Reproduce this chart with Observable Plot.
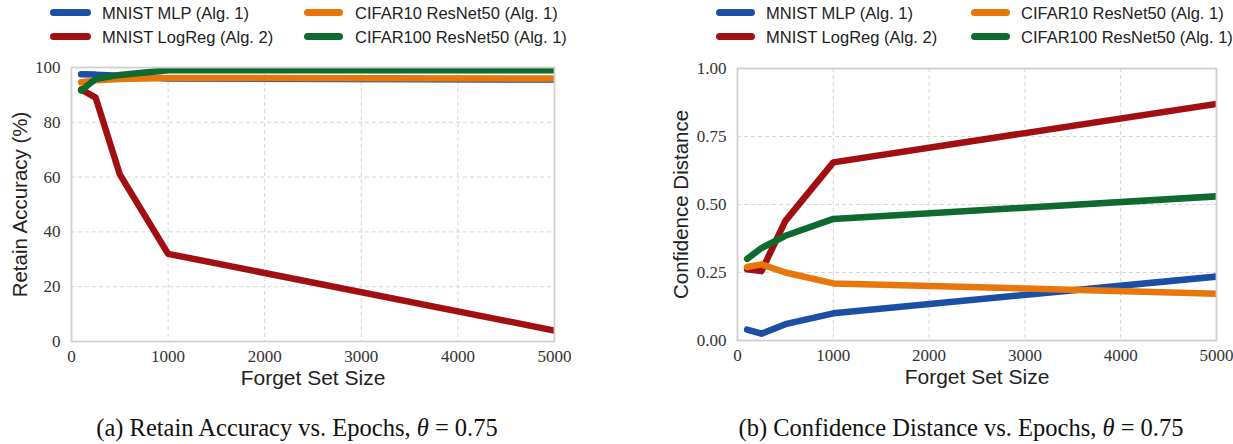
<!DOCTYPE html>
<html>
<head>
<meta charset="utf-8">
<script src="https://cdn.jsdelivr.net/npm/d3@7"></script>
<script src="https://cdn.jsdelivr.net/npm/@observablehq/plot@0.6"></script>
<style>
  html, body { margin: 0; padding: 0; background: #ffffff; }
  #root { position: relative; width: 1233px; height: 444px; overflow: hidden; background: #fff; }
  .panel { position: absolute; top: 55px; }
  .leg { position: absolute; height: 20px; line-height: 20px; font-family: "Liberation Sans", Arial, sans-serif; font-size: 16.5px; color: #222; white-space: nowrap; }
  .sw { position: absolute; height: 7px; border-radius: 3.5px; }
  .cap { position: absolute; top: 414px; height: 28px; line-height: 28px; font-family: "Liberation Serif", "DejaVu Serif", serif; font-size: 24.5px; color: #111; white-space: nowrap; transform: translateX(-50%); }
</style>
</head>
<body>
<div id="root"></div>
<script>
// ---------------- data ----------------
const forgetSizes = [100, 250, 500, 1000, 5000];
const seriesNames = ["MNIST MLP (Alg. 1)", "MNIST LogReg (Alg. 2)", "CIFAR10 ResNet50 (Alg. 1)", "CIFAR100 ResNet50 (Alg. 1)"];
const seriesColors = ["#1b4fa6", "#a20f12", "#e8770b", "#0f6a2f"];

// panel (a): retain accuracy (%)
const retainMLP      = [97.5, 97.4, 97.0, 96.0, 95.6];
const retainLogReg   = [92.0, 89.0, 61.0, 32.0, 4.0];
const retainCIFAR10  = [94.6, 95.3, 95.8, 96.2, 96.0];
const retainCIFAR100 = [91.6, 95.8, 97.3, 99.0, 99.0];

// panel (b): confidence distance
const confMLP      = [0.040, 0.025, 0.060, 0.100, 0.235];
const confLogReg   = [0.262, 0.255, 0.440, 0.655, 0.870];
const confCIFAR10  = [0.270, 0.280, 0.250, 0.210, 0.172];
const confCIFAR100 = [0.300, 0.340, 0.385, 0.447, 0.530];

const xTicks = [0, 1000, 2000, 3000, 4000, 5000];
const retainTicks = [0, 20, 40, 60, 80, 100];
const confTicks = [0, 0.25, 0.5, 0.75, 1.0];

const xLabel = "Forget Set Size";
const retainLabel = "Retain Accuracy (%)";
const confLabel = "Confidence Distance";
const captionA = ["(a) Retain Accuracy vs. Epochs, ", "θ", " = 0.75"];
const captionB = ["(b) Confidence Distance vs. Epochs, ", "θ", " = 0.75"];

// ---------------- helpers ----------------
const SERIF = "'Liberation Serif', 'DejaVu Serif', serif";
const SANS = "'Liberation Sans', Arial, sans-serif";

function toRows(seriesList) {
  const rows = [];
  seriesList.forEach((vals, si) => {
    vals.forEach((v, i) => rows.push({ series: seriesNames[si], x: forgetSizes[i], y: v }));
  });
  return rows;
}

function makePanel({ rows, yDomain, yTicks, yFormat, yLabel, width, height, marginLeft, marginRight, marginTop, marginBottom, yLabelDx }) {
  const svg = Plot.plot({
    width, height, marginLeft, marginRight, marginTop, marginBottom,
    style: { background: "#ffffff", fontSize: "17px", color: "#333" },
    x: { domain: [0, 5000] },
    y: { domain: yDomain },
    color: { domain: seriesNames, range: seriesColors },
    marks: [
      Plot.gridX(xTicks, { stroke: "#d6d6d6", strokeOpacity: 1, strokeWidth: 1, strokeDasharray: "4,3" }),
      Plot.gridY(yTicks, { stroke: "#d6d6d6", strokeOpacity: 1, strokeWidth: 1, strokeDasharray: "4,3" }),
      Plot.axisX(xTicks, { tickSize: 0, tickPadding: 8, label: null, tickFormat: d => String(d), fontSize: 17, fontFamily: SERIF, fill: "#333", className: "tickfont" }),
      Plot.axisY(yTicks, { tickSize: 0, tickPadding: 11, label: null, tickFormat: yFormat, fontSize: 17, fontFamily: SERIF, fill: "#333", className: "tickfont" }),
      Plot.lineY(rows, { x: "x", y: "y", z: "series", stroke: "series", strokeWidth: 6.5, strokeLinecap: "round", strokeLinejoin: "round", clip: "frame" }),
      Plot.frame({ stroke: "#cfcfcf", strokeWidth: 1.8 }),
      Plot.text([yLabel], { text: d => d, frameAnchor: "left", dx: yLabelDx, rotate: -90, fontSize: 20.5, fontFamily: SANS, fill: "#222", textAnchor: "middle", className: "labelfont" }),
      Plot.text([xLabel], { text: d => d, frameAnchor: "bottom", dy: 43, fontSize: 21, fontFamily: SANS, fill: "#222", textAnchor: "middle", className: "labelfont" })
    ]
  });
  // enforce fonts with inline styles
  svg.querySelectorAll("text").forEach(t => { t.style.fontFamily = SERIF; });
  svg.querySelectorAll(".labelfont text, text.labelfont").forEach(t => { t.style.fontFamily = SANS; });
  return svg;
}

function addLegend(root, cols, rowsY) {
  seriesNames.forEach((name, i) => {
    const c = cols[Math.floor(i / 2)];
    const y = rowsY[i % 2];
    const sw = document.createElement("div");
    sw.className = "sw";
    sw.style.left = c.swatchX + "px";
    sw.style.width = c.swatchW + "px";
    sw.style.top = (y - 3.5) + "px";
    sw.style.background = seriesColors[i];
    root.appendChild(sw);
    const t = document.createElement("div");
    t.className = "leg";
    t.style.left = c.textX + "px";
    t.style.top = (y - 10) + "px";
    t.textContent = name;
    root.appendChild(t);
  });
}

function addCaption(root, parts, cx) {
  const d = document.createElement("div");
  d.className = "cap";
  d.style.left = cx + "px";
  parts.forEach((p, i) => {
    const s = document.createElement(i === 1 ? "i" : "span");
    s.textContent = p;
    d.appendChild(s);
  });
  root.appendChild(d);
}

// ---------------- build ----------------
const root = document.getElementById("root");

const panelA = makePanel({
  rows: toRows([retainMLP, retainLogReg, retainCIFAR10, retainCIFAR100]),
  yDomain: [0, 100], yTicks: retainTicks, yFormat: d => String(d), yLabel: retainLabel,
  width: 616, height: 345, marginLeft: 71, marginRight: 62, marginTop: 12, marginBottom: 59, yLabelDx: -51
});
const divA = document.createElement("div");
divA.className = "panel"; divA.style.left = "0px";
divA.appendChild(panelA);
root.appendChild(divA);

const panelB = makePanel({
  rows: toRows([confMLP, confLogReg, confCIFAR10, confCIFAR100]),
  yDomain: [0, 1], yTicks: confTicks, yFormat: d => d.toFixed(2), yLabel: confLabel,
  width: 617, height: 345, marginLeft: 121, marginRight: 17, marginTop: 13, marginBottom: 60, yLabelDx: -56
});
const divB = document.createElement("div");
divB.className = "panel"; divB.style.left = "616px";
divB.appendChild(panelB);
root.appendChild(divB);

addLegend(root, [{ swatchX: 50, swatchW: 41, textX: 102 }, { swatchX: 304, swatchW: 39, textX: 355 }], [12.7, 36.7]);
addLegend(root, [{ swatchX: 716, swatchW: 39, textX: 766 }, { swatchX: 971, swatchW: 39, textX: 1021 }], [12.7, 36.7]);

addCaption(root, captionA, 297);
addCaption(root, captionB, 961);
</script>
</body>
</html>
